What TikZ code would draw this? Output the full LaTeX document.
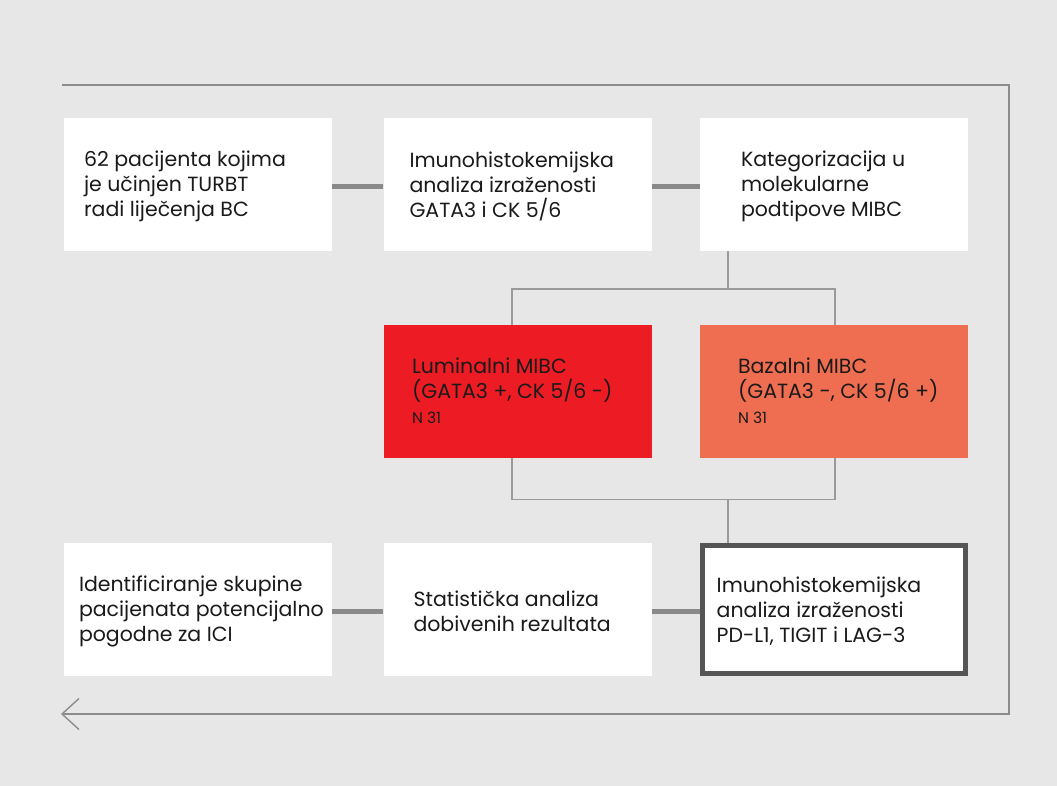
\documentclass[tikz,border=0pt]{standalone}
\usepackage{fontspec}
\setmainfont{Poppins}
\definecolor{bg}{HTML}{E8E7E8}
\definecolor{lum}{HTML}{ED1C24}
\definecolor{baz}{HTML}{EF6D50}
\definecolor{ink}{HTML}{1A1A1A}
\definecolor{frame}{HTML}{8C8C8C}
\definecolor{thin}{HTML}{9A9A9A}
\definecolor{thick}{HTML}{8A8A8A}
\definecolor{bold}{HTML}{555555}
\begin{document}
\begin{tikzpicture}[x=1pt,y=-1pt,
  box/.style={fill=white, draw=none, minimum width=268pt, minimum height=133pt, inner sep=0pt},
  lumbox/.style={box, fill=lum},
  bazbox/.style={box, fill=baz},
  boldbox/.style={fill=white, draw=bold, line width=5pt, minimum width=263pt, minimum height=128pt, inner sep=0pt},
  txt/.style={anchor=west, align=left, font=\fontsize{20.5}{25}\selectfont, text=ink, inner sep=0pt},
  thickline/.style={draw=thick, line width=5pt},
  thinline/.style={draw=thin, line width=1.4pt},
  frameline/.style={draw=frame, line width=1.4pt}]
\fill[bg] (0,0) rectangle (1057,786);
\useasboundingbox (0,0) rectangle (1057,786);
% boxes
\node[box] (b1) at (198,184.5) {};
\node[box] (b2) at (517.5,184.5) {};
\node[box] (b3) at (834,184.5) {};
\node[lumbox] (r1) at (518,391.5) {};
\node[bazbox] (r2) at (834,391.5) {};
\node[box] (b4) at (198,609.5) {};
\node[box] (b5) at (517.5,609.5) {};
\node[boldbox] (b6) at (834,609.5) {};
% texts
\node[txt] (t1) at ([xshift=20pt,yshift=-2pt]b1.west) {62 pacijenta kojima\\je učinjen TURBT\\radi liječenja BC};
\node[txt] (t2) at ([xshift=26pt,yshift=-2pt]b2.west) {Imunohistokemijska\\analiza izraženosti\\GATA3 i CK 5/6};
\node[txt] (t3) at ([xshift=41pt,yshift=-2pt]b3.west) {Kategorizacija u\\molekularne\\podtipove MIBC};
\node[txt] (t4) at ([xshift=28pt,yshift=1pt]r1.west) {Luminalni MIBC\\(GATA3 +, CK 5/6 -)\\{\fontsize{15.5}{16}\selectfont N 31}};
\node[txt] (t5) at ([xshift=38pt,yshift=1pt]r2.west) {Bazalni MIBC\\(GATA3 -, CK 5/6 +)\\{\fontsize{15.5}{16}\selectfont N 31}};
\node[txt] (t6) at ([xshift=15pt,yshift=-2pt]b4.west) {Identificiranje skupine\\pacijenata potencijalno\\pogodne za ICI};
\node[txt] (t7) at ([xshift=30pt,yshift=-2pt]b5.west) {Statistička analiza\\dobivenih rezultata};
\node[txt] (t8) at ([xshift=16.5pt,yshift=-2pt]b6.west) {Imunohistokemijska\\analiza izraženosti\\PD-L1, TIGIT i LAG-3};
% thick connectors
\draw[thickline] ([yshift=-2.5pt]b1.east) -- ([yshift=-2.5pt]b2.west);
\draw[thickline] ([yshift=-2.5pt]b2.east) -- ([yshift=-2.5pt]b3.west);
\draw[thickline] ([yshift=-2pt]b4.east) -- ([yshift=-2pt]b5.west);
\draw[thickline] ([yshift=-2pt]b5.east) -- ([yshift=-2pt]b6.west);
% thin connectors
\coordinate (s3) at ([xshift=-106pt]b3.south);
\coordinate (n1) at ([xshift=-6pt]r1.north);
\coordinate (n2) at ([xshift=1pt]r2.north);
\coordinate (u1) at ([xshift=-6pt]r1.south);
\coordinate (u2) at ([xshift=1pt]r2.south);
\coordinate (n6) at ([xshift=-106pt]b6.north);
\draw[thinline] (s3) -- ++(0,38) coordinate (j1);
\draw[thinline] (n1) |- (j1) -| (n2);
\draw[thinline] (u1) -- ++(0,41) coordinate (j2) -| (u2);
\draw[thinline] (n6) -- (n6 |- j2);
% outer frame with arrow
\coordinate (f0) at (62,85);
\coordinate (f1) at (1009,85);
\coordinate (f2) at (1009,714);
\coordinate (f3) at (62,714);
\draw[frameline] (f0) -- (f1) -- (f2) -- (f3);
\draw[frameline] ([shift={(17,-15.5)}]f3) -- (f3) -- ([shift={(17,15.5)}]f3);
\end{tikzpicture}
\end{document}
